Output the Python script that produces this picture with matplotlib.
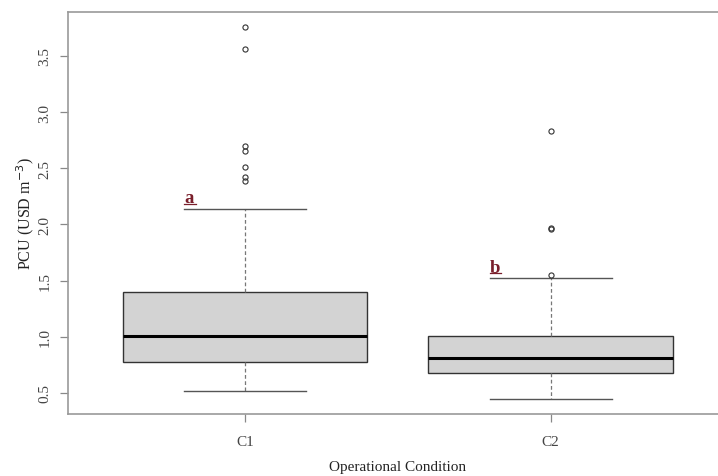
import matplotlib
matplotlib.use("Agg")
import matplotlib.pyplot as plt

# box statistics
conditions = ["C1", "C2"]
q1 = [0.773, 0.675]
medians = [1.004, 0.811]
q3 = [1.396, 1.010]
whis_lo = [0.52, 0.447]
whis_hi = [2.137, 1.52]
fliers_c1 = [3.753, 3.56, 2.70, 2.656, 2.508, 2.419, 2.389]
fliers_c2 = [2.831, 1.965, 1.96, 1.55]
letters = ["a", "b"]

plt.rcParams["font.family"] = ["Liberation Serif", "DejaVu Serif"]

fig = plt.figure(figsize=(7.18, 4.77), dpi=100)
ax = fig.add_axes([0.0947, 0.130, 0.919, 0.8428])

stats = []
for i, name in enumerate(conditions):
    stats.append(dict(label=name, q1=q1[i], med=medians[i], q3=q3[i],
                      whislo=whis_lo[i], whishi=whis_hi[i],
                      fliers=[fliers_c1, fliers_c2][i]))

ax.bxp(stats, positions=[1, 2], widths=0.8, patch_artist=True,
       boxprops=dict(facecolor="#d3d3d3", edgecolor="#333333", linewidth=1.0),
       medianprops=dict(color="black", linewidth=2.2),
       whiskerprops=dict(color="#777777", linestyle=(0, (3, 2)), linewidth=0.9),
       capprops=dict(color="#555555", linewidth=1.0),
       capwidths=0.4,
       flierprops=dict(marker="o", markersize=3.7, markerfacecolor="none",
                       markeredgecolor="#333333", markeredgewidth=0.8))

ax.set_xlim(0.42, 2.58)
ax.set_ylim(0.313, 3.89)
ax.set_yticks([0.5, 1.0, 1.5, 2.0, 2.5, 3.0, 3.5])
ax.set_yticklabels(["0.5", "1.0", "1.5", "2.0", "2.5", "3.0", "3.5"],
                   rotation=90, va="center")
ax.set_xticks([1, 2])
ax.set_xticklabels(conditions)
ax.tick_params(colors="#888888", labelcolor="#444444", labelsize=11,
               length=6, width=0.9)
ax.tick_params(axis="x", pad=9)
ax.tick_params(axis="y", pad=6)
for s in ax.spines.values():
    s.set_color("#999999")
    s.set_linewidth(1.2)

ax.set_ylabel("PCU (USD m$^{-3}$)", fontsize=11.5, color="#222222", labelpad=2)
ax.set_xlabel("Operational Condition", fontsize=11, color="#222222", labelpad=8.5)

# significance letters, dark red, underlined
for i, let in enumerate(letters):
    x0 = i + 1 - 0.2
    y0 = whis_hi[i] + 0.06
    ax.text(x0, y0, let, color="#7a1f2b", fontsize=13.5,
            fontweight="bold", ha="left", va="baseline")
    ax.plot([x0, x0 + 0.038], [y0 - 0.012, y0 - 0.012],
            color="#7a1f2b", linewidth=0.9)

fig.savefig("out.png", dpi=100)
